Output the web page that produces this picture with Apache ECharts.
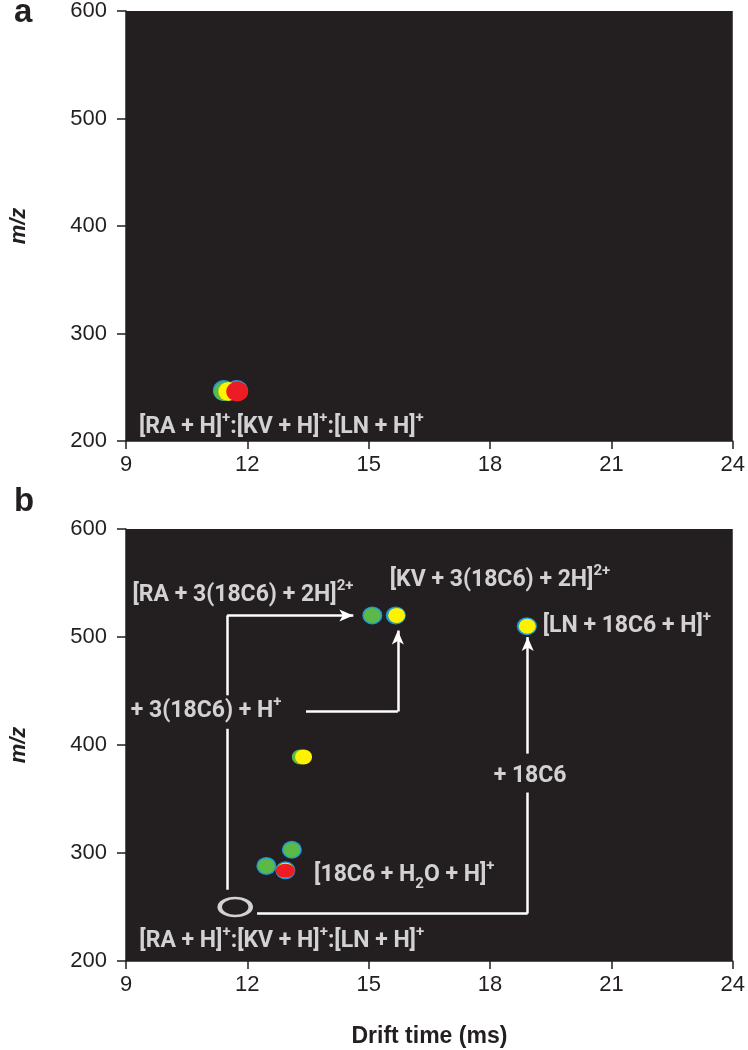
<!DOCTYPE html>
<html><head><meta charset="utf-8">
<script src="https://cdn.jsdelivr.net/npm/echarts@6/dist/echarts.min.js"></script>
<style>html,body{margin:0;padding:0;background:#fff}#c{width:748px;height:1050px}</style>
</head><body><div id="c"></div>
<script>
// ---- axis ticks ----
const xTicks = [9, 12, 15, 18, 21, 24];
const yTicks = [200, 300, 400, 500, 600];

// ---- panel a: ion peaks (drift time ms, m/z) ----
const aBlue   = [[11.42, 247], [11.74, 247]];
const aGreen  = [[11.42, 246]];
const aYellow = [[11.53, 246]];
const aRed    = [[11.75, 246]];
const aLabels = [[9.32, 213, '{n|[RA + H]}{s|+}{n|:[KV + H]}{s|+}{n|:[LN + H]}{s|+}']];

// ---- panel b: ion peaks ----
const bBlue   = [[15.09, 520], [15.67, 520], [18.91, 510], [13.10, 303], [12.47, 288], [12.94, 284]];
const bGreen  = [[15.09, 520], [13.31, 389], [13.10, 303], [12.47, 288], [12.94, 284]];
const bYellow = [[15.69, 520], [18.92, 510], [13.39, 389], [12.94, 284]];
const bRed    = [[12.94, 283.5]];
const bOpen   = [[11.70, 250]];
const bLabels = [
  [9.16, 539, '{n|[RA + 3(18C6) + 2H]}{s|2+}'],
  [15.52, 553, '{n|[KV + 3(18C6) + 2H]}{s|2+}'],
  [19.30, 510, '{n|[LN + 18C6 + H]}{s|+}'],
  [9.12, 431, '{n|+ 3(18C6) + H}{s|+}'],
  [13.65, 279, '{n|[18C6 + H}{b|2}{n|O + H]}{s|+}'],
  [9.33, 218, '{n|[RA + H]}{s|+}{n|:[KV + H]}{s|+}{n|:[LN + H]}{s|+}']
];
const bCenterLabels = [[18.99, 371, '{n|+ 18C6}']];
// connector segments (no arrow)
const bSegments = [
  [[11.5, 266], [11.5, 415]],
  [[11.5, 446], [11.5, 520]],
  [[13.45, 431], [15.72, 431]],
  [[12.24, 244], [18.93, 244]],
  [[18.93, 244], [18.93, 356]]
];
// connector segments ending in arrow
const bArrows = [
  [[11.5, 520], [14.62, 520]],
  [[15.72, 431], [15.72, 506]],
  [[18.93, 392], [18.93, 500]]
];

const BG = '#231f20';
const WHITE = '#ffffff';
const LF = 'Roboto, "Liberation Sans", sans-serif';
const rich = {
  n: {fontFamily: LF, fontWeight: 'bold', fontSize: 23, color: WHITE, lineHeight: 33, verticalAlign: 'middle'},
  s: {fontFamily: LF, fontWeight: 'bold', fontSize: 15, color: WHITE, verticalAlign: 'top', lineHeight: 16},
  b: {fontFamily: LF, fontWeight: 'bold', fontSize: 15, color: WHITE, verticalAlign: 'bottom', lineHeight: 16}
};

const chart = echarts.init(document.getElementById('c'), null, {renderer: 'canvas'});

function xAxisDef(idx, withName) {
  return {
    type: 'value', gridIndex: idx, min: 9, max: 24, interval: 3,
    axisLine: {show: true, onZero: false, lineStyle: {color: BG, width: 1.5}},
    axisTick: {show: true, inside: false, length: 8, lineStyle: {color: BG, width: 1.5}},
    axisLabel: {color: BG, fontSize: 22, fontFamily: 'Liberation Sans', margin: 13,
      formatter: v => xTicks.includes(v) ? String(v) : ''},
    splitLine: {show: false},
    name: withName ? 'Drift time (ms)' : '',
    nameLocation: 'middle', nameGap: 64,
    nameTextStyle: {color: BG, fontSize: 23, fontWeight: 'bold', fontFamily: 'Liberation Sans'}
  };
}
function yAxisDef(idx) {
  return {
    type: 'value', gridIndex: idx, min: 200, max: 600, interval: 100,
    axisLine: {show: true, onZero: false, lineStyle: {color: BG, width: 1.5}},
    axisTick: {show: true, inside: false, length: 9, lineStyle: {color: BG, width: 1.5}},
    axisLabel: {color: BG, fontSize: 22, fontFamily: 'Liberation Sans', margin: 19,
      formatter: v => yTicks.includes(v) ? String(v) : ''},
    splitLine: {show: false},
    name: 'm/z', nameLocation: 'middle', nameGap: 96, nameRotate: 90,
    nameTextStyle: {color: BG, fontSize: 22, fontWeight: 'bold', fontStyle: 'italic', fontFamily: 'Liberation Sans'}
  };
}
function blob(idx, data, color, size, z) {
  return {type: 'scatter', xAxisIndex: idx, yAxisIndex: idx, data: data, symbol: 'circle',
    symbolSize: size, itemStyle: {color: color, opacity: 1}, z: z, silent: true, animation: false};
}
function labels(idx, data, pos) {
  return {type: 'scatter', xAxisIndex: idx, yAxisIndex: idx, symbolSize: 0, z: 20, silent: true, animation: false,
    data: data.map(d => ({value: [d[0], d[1]], text: d[2]})),
    label: {show: true, position: pos, distance: 0, formatter: p => p.data.text, rich: rich}};
}
function segs(idx, data, arrow) {
  return {type: 'scatter', xAxisIndex: idx, yAxisIndex: idx, data: [], z: 15, silent: true, animation: false,
    markLine: {silent: true, animation: false, symbol: arrow ? ['none', 'arrow'] : ['none', 'none'],
      symbolSize: arrow ? [9, 14] : 0, label: {show: false},
      lineStyle: {color: WHITE, width: 2.5, type: 'solid', opacity: 1},
      emphasis: {disabled: true},
      data: data.map(s => [{coord: s[0]}, {coord: s[1]}])}};
}

const option = {
  backgroundColor: '#ffffff',
  animation: false,
  title: [
    {text: 'a', left: 9, top: -9, textStyle: {fontSize: 33, fontWeight: 'bold', color: BG, fontFamily: 'Liberation Sans'}},
    {text: 'b', left: 9, top: 480, textStyle: {fontSize: 33, fontWeight: 'bold', color: BG, fontFamily: 'Liberation Sans'}}
  ],
  grid: [
    {left: 120, top: 10, width: 616, height: 431, show: true, backgroundColor: BG, borderWidth: 0},
    {left: 120, top: 529, width: 616, height: 432, show: true, backgroundColor: BG, borderWidth: 0}
  ],
  xAxis: [xAxisDef(0, false), xAxisDef(1, true)],
  yAxis: [yAxisDef(0), yAxisDef(1)],
  series: [
    blob(0, aBlue, '#1f9ad8', [22, 21], 2),
    blob(0, aGreen, '#5bb947', [20, 19], 3),
    blob(0, aYellow, '#fff200', [20, 19], 4),
    blob(0, aRed, '#ed1c24', [22, 20], 5),
    labels(0, aLabels, 'right'),

    blob(1, bBlue, '#1f9ad8', [20, 18], 2),
    blob(1, bGreen, '#5bb947', [17, 15], 3),
    blob(1, bYellow, '#fff200', [17, 15], 4),
    blob(1, bRed, '#ed1c24', [19, 14], 5),
    {type: 'scatter', xAxisIndex: 1, yAxisIndex: 1, data: bOpen, symbol: 'circle', symbolSize: [31, 18],
      itemStyle: {color: 'rgba(0,0,0,0)', borderColor: WHITE, borderWidth: 3.5}, z: 6, silent: true, animation: false},
    segs(1, bSegments, false),
    segs(1, bArrows, true),
    labels(1, bLabels, 'right'),
    labels(1, bCenterLabels, 'inside')
  ]
};
chart.setOption(option);
</script></body></html>
